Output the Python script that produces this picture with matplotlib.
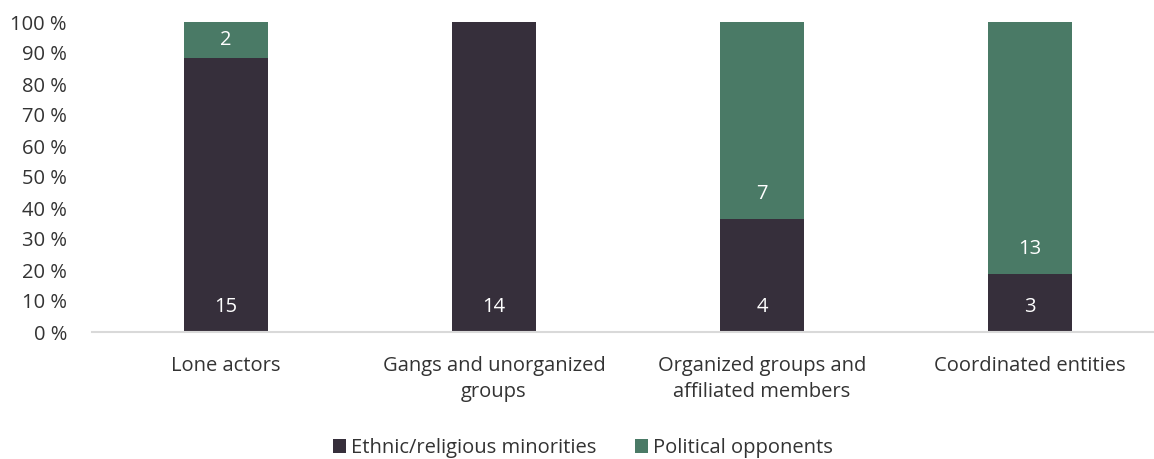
import matplotlib.pyplot as plt
import numpy as np

plt.rcParams['font.family'] = ['Open Sans', 'DejaVu Sans']

# Counts per actor type
categories = ['Lone actors', 'Gangs and unorganized\ngroups',
              'Organized groups and\naffiliated members', 'Coordinated entities']
minorities = [15, 14, 4, 3]
opponents = [2, 0, 7, 13]
series_names = ['Ethnic/religious minorities', 'Political opponents']

dark = '#362f3b'
green = '#4a7a66'
text_col = '#333333'
fs = 14.5

mins = np.array(minorities, dtype=float)
opps = np.array(opponents, dtype=float)
total = mins + opps
min_share = mins / total * 100
opp_share = opps / total * 100

fig = plt.figure(figsize=(11.54, 4.59), dpi=100)
ax = fig.add_axes([92 / 1154, 127 / 459, 1062 / 1154, 310 / 459])

x = np.arange(len(categories))
w = 0.313
ax.bar(x, min_share, w, color=dark, label=series_names[0], zorder=2)
ax.bar(x, opp_share, w, bottom=min_share, color=green, label=series_names[1], zorder=2)

# value labels sit just above the base of each segment
off = 8.0
for i in range(len(x)):
    for base, share, val in [(0, min_share[i], minorities[i]),
                             (min_share[i], opp_share[i], opponents[i])]:
        if val == 0:
            continue
        y = base + min(off, share / 2)
        ax.text(x[i], y, str(val), ha='center', va='center',
                color='white', fontsize=fs)

ax.set_xlim(-0.5, -0.5 + 1062 / 268)
ax.set_ylim(0, 100)
ax.set_yticks(np.arange(0, 101, 10))
ax.set_yticklabels([f'{v} %' for v in range(0, 101, 10)])
ax.set_xticks(x)
ax.set_xticklabels(categories, linespacing=1.45)

for s in ['top', 'right', 'left']:
    ax.spines[s].set_visible(False)
ax.spines['bottom'].set_color('#d9d9d9')
ax.spines['bottom'].set_linewidth(1.5)
ax.tick_params(axis='both', length=0, colors=text_col, labelsize=fs)
ax.tick_params(axis='x', pad=17)
ax.tick_params(axis='y', pad=18)

ax.legend(loc='center', bbox_to_anchor=(583 / 1154, 11 / 459),
          bbox_transform=fig.transFigure, ncol=2, frameon=False,
          fontsize=fs, handlelength=0.65, handleheight=0.65,
          handletextpad=0.25, columnspacing=1.9, labelcolor=text_col)

fig.savefig('out.png', dpi=100)
